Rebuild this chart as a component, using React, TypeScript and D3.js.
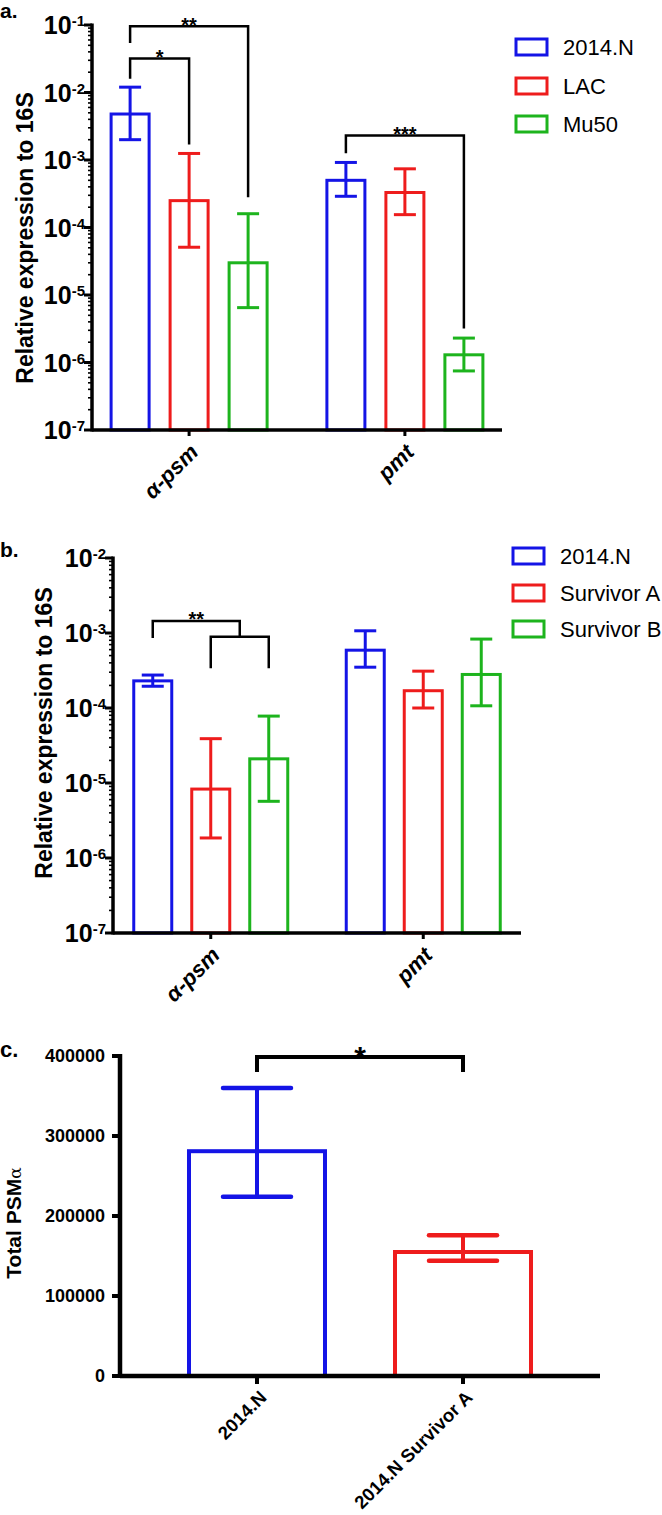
import React, { useEffect, useRef } from 'react';
import * as d3 from 'd3';

const FONT = '"Liberation Sans", Arial, sans-serif';
const COLORS = ['#1414e6', '#ee1c1c', '#1db41d'];

// panel a
const genesA = ['α-psm', 'pmt'];
const strainsA = ['2014.N', 'LAC', 'Mu50'];
const meanA = [[4.8e-3, 2.5e-4, 3.0e-5], [5.0e-4, 3.3e-4, 1.3e-6]];
const lowA = [[2.0e-3, 5.1e-5, 6.5e-6], [2.9e-4, 1.55e-4, 7.5e-7]];
const highA = [[1.2e-2, 1.25e-3, 1.6e-4], [9.2e-4, 7.4e-4, 2.3e-6]];
const sigA = [
  { label: '**', from: [0, 0], to: [0, 2], top: 0.096, left: 0.054, right: 2.8e-4 },
  { label: '*', from: [0, 0], to: [0, 1], top: 0.032, left: 0.016, right: 1.7e-3 },
  { label: '***', from: [1, 0], to: [1, 2], top: 2.3e-3, left: 1.26e-3, right: 3.2e-6 },
];

// panel b
const genesB = ['α-psm', 'pmt'];
const strainsB = ['2014.N', 'Survivor A', 'Survivor B'];
const meanB = [[2.3e-4, 8.3e-6, 2.1e-5], [5.9e-4, 1.7e-4, 2.8e-4]];
const lowB = [[1.95e-4, 1.85e-6, 5.7e-6], [3.5e-4, 1.0e-4, 1.07e-4]];
const highB = [[2.75e-4, 3.9e-5, 7.8e-5], [1.07e-3, 3.1e-4, 8.3e-4]];

// panel c
const groupsC = ['2014.N', '2014.N Survivor A'];
const meanC = [281000, 155000];
const lowC = [224000, 144000];
const highC = [360000, 176000];
const ticksC = [0, 100000, 200000, 300000, 400000];

function drawLog(svg, p) {
  const g = svg.append('g');
  const y = d3.scaleLog().domain([10 ** p.minExp, 10 ** p.maxExp]).range([p.yBot, p.yTop]);
  const x = d3.scalePoint().domain(p.groups).range([p.xLeft, p.xRight]).padding(p.pad);
  const xs = d3.scalePoint().domain(p.strains).range([-p.spread, p.spread]);
  const cx = (gi, si) => x(p.groups[gi]) + xs(p.strains[si]);

  // bars + error bars
  p.groups.forEach((grp, gi) => {
    p.strains.forEach((s, si) => {
      const c = cx(gi, si);
      const col = COLORS[si];
      g.append('rect')
        .attr('x', c - 19).attr('y', y(p.mean[gi][si]))
        .attr('width', 38).attr('height', p.yBot - y(p.mean[gi][si]))
        .attr('fill', 'none').attr('stroke', col).attr('stroke-width', 3);
      g.append('line').attr('x1', c).attr('x2', c)
        .attr('y1', y(p.low[gi][si])).attr('y2', y(p.high[gi][si]))
        .attr('stroke', col).attr('stroke-width', 3);
      [p.low[gi][si], p.high[gi][si]].forEach(v => {
        g.append('line').attr('x1', c - 11).attr('x2', c + 11)
          .attr('y1', y(v)).attr('y2', y(v))
          .attr('stroke', col).attr('stroke-width', 3);
      });
    });
  });

  // minor + major ticks
  for (let e = p.minExp; e < p.maxExp; e++) {
    for (let k = 2; k <= 9; k++) {
      g.append('line').attr('x1', p.xLeft - 4).attr('x2', p.xLeft)
        .attr('y1', y(k * 10 ** e)).attr('y2', y(k * 10 ** e))
        .attr('stroke', '#000').attr('stroke-width', 1.6);
    }
  }
  for (let e = p.minExp; e <= p.maxExp; e++) {
    const yy = y(10 ** e);
    g.append('line').attr('x1', p.xLeft - 8).attr('x2', p.xLeft)
      .attr('y1', yy).attr('y2', yy).attr('stroke', '#000').attr('stroke-width', 3);
    const t = g.append('text').attr('x', p.xLeft - 7).attr('y', yy + 9)
      .attr('text-anchor', 'end').attr('font-family', FONT).attr('font-weight', 'bold');
    t.append('tspan').attr('font-size', p.tickFs).text('10');
    t.append('tspan').attr('font-size', 15).attr('dy', -8).text(String(e));
  }

  // axes
  g.append('line').attr('x1', p.xLeft).attr('x2', p.xLeft)
    .attr('y1', p.yTop - 1.5).attr('y2', p.yBot + 1.5)
    .attr('stroke', '#000').attr('stroke-width', 3.5);
  g.append('line').attr('x1', p.xLeft).attr('x2', p.xRight)
    .attr('y1', p.yBot).attr('y2', p.yBot)
    .attr('stroke', '#000').attr('stroke-width', 3.5);
  p.groups.forEach(grp => {
    g.append('line').attr('x1', x(grp)).attr('x2', x(grp))
      .attr('y1', p.yBot).attr('y2', p.yBot + 6)
      .attr('stroke', '#000').attr('stroke-width', 3);
    g.append('text')
      .attr('transform', `translate(${x(grp) + 5},${p.yBot + 18}) rotate(-45)`)
      .attr('text-anchor', 'end').attr('dy', '0.35em')
      .attr('font-family', FONT).attr('font-weight', 'bold').attr('font-style', 'italic')
      .attr('font-size', 22).text(grp);
  });

  // y label and panel letter
  g.append('text')
    .attr('transform', `translate(${p.labelX},${p.labelY}) rotate(-90)`)
    .attr('text-anchor', 'middle').attr('font-family', FONT).attr('font-weight', 'bold')
    .attr('font-size', 23).text('Relative expression to 16S');
  g.append('text').attr('x', 0).attr('y', p.letterY)
    .attr('font-family', FONT).attr('font-weight', 'bold').attr('font-size', 21).text(p.letter);

  // legend
  p.strains.forEach((s, si) => {
    const ly = p.legendY[si];
    g.append('rect').attr('x', p.legendX).attr('y', ly - 8).attr('width', 31).attr('height', 16)
      .attr('fill', 'none').attr('stroke', COLORS[si]).attr('stroke-width', 3);
    g.append('text').attr('x', p.legendX + 47).attr('y', ly).attr('dy', '0.35em')
      .attr('font-family', FONT).attr('font-size', 22).text(s);
  });

  return { g, y, cx };
}

function bracket(g, x1, x2, yTop, yL, yR, label, fs, sw) {
  g.append('path')
    .attr('d', `M${x1},${yL}V${yTop}H${x2}V${yR}`)
    .attr('fill', 'none').attr('stroke', '#000').attr('stroke-width', sw);
  g.append('text').attr('x', (x1 + x2) / 2).attr('y', yTop - 3 + 0.43 * fs)
    .attr('text-anchor', 'middle').attr('font-family', FONT).attr('font-weight', 'bold')
    .attr('font-size', fs).text(label);
}

const App = () => {
  const svgRef = useRef(null);

  useEffect(() => {
    const svg = d3.select(svgRef.current);
    svg.selectAll('*').remove();

    // panel a
    const a = drawLog(svg, {
      letter: 'a.', letterY: 18, groups: genesA, strains: strainsA,
      mean: meanA, low: lowA, high: highA, minExp: -7, maxExp: -1,
      yTop: 25, yBot: 430, xLeft: 92, xRight: 502, pad: 0.45, spread: 59,
      labelX: 33, labelY: 238, legendX: 516, legendY: [47, 86, 124], tickFs: 25,
    });
    sigA.forEach(s => {
      bracket(a.g, a.cx(s.from[0], s.from[1]), a.cx(s.to[0], s.to[1]),
        a.y(s.top), a.y(s.left), a.y(s.right), s.label, 20, 2.5);
    });

    // panel b
    const b = drawLog(svg, {
      letter: 'b.', letterY: 557, groups: genesB, strains: strainsB,
      mean: meanB, low: lowB, high: highB, minExp: -7, maxExp: -2,
      yTop: 558, yBot: 933, xLeft: 113, xRight: 521, pad: 0.46, spread: 58,
      labelX: 52, labelY: 733, legendX: 513, legendY: [556, 593, 629], tickFs: 25,
    });
    const bx0 = b.cx(0, 0), bx1 = b.cx(0, 1), bx2 = b.cx(0, 2);
    const mid = (bx1 + bx2) / 2;
    b.g.append('path')
      .attr('d', `M${bx1},${b.y(3.4e-4)}V${b.y(8.9e-4)}H${bx2}V${b.y(3.4e-4)}`)
      .attr('fill', 'none').attr('stroke', '#000').attr('stroke-width', 2.5);
    bracket(b.g, bx0, mid, b.y(1.45e-3), b.y(8.6e-4), b.y(8.9e-4), '**', 20, 2.5);

    // panel c
    const gc = svg.append('g');
    const yTop = 1056, yBot = 1376, xLeft = 120, xRight = 600;
    const y = d3.scaleLinear().domain([0, 400000]).range([yBot, yTop]);
    const x = d3.scalePoint().domain(groupsC).range([xLeft, xRight]).padding(0.665);
    groupsC.forEach((grp, i) => {
      const c = x(grp);
      gc.append('rect').attr('x', c - 68).attr('y', y(meanC[i]))
        .attr('width', 136).attr('height', yBot - y(meanC[i]))
        .attr('fill', 'none').attr('stroke', COLORS[i]).attr('stroke-width', 4);
      gc.append('line').attr('x1', c).attr('x2', c)
        .attr('y1', y(lowC[i])).attr('y2', y(highC[i]))
        .attr('stroke', COLORS[i]).attr('stroke-width', 4);
      [lowC[i], highC[i]].forEach(v => {
        gc.append('line').attr('x1', c - 34).attr('x2', c + 34)
          .attr('y1', y(v)).attr('y2', y(v))
          .attr('stroke', COLORS[i]).attr('stroke-width', 4.5).attr('stroke-linecap', 'round');
      });
      gc.append('line').attr('x1', c).attr('x2', c).attr('y1', yBot).attr('y2', yBot + 8)
        .attr('stroke', '#000').attr('stroke-width', 4);
      gc.append('text')
        .attr('transform', `translate(${c + 6},${yBot + 18}) rotate(-45)`)
        .attr('text-anchor', 'end').attr('dy', '0.35em')
        .attr('font-family', FONT).attr('font-weight', 'bold').attr('font-size', 18.5).text(grp);
    });
    ticksC.forEach(t => {
      gc.append('line').attr('x1', xLeft - 8).attr('x2', xLeft).attr('y1', y(t)).attr('y2', y(t))
        .attr('stroke', '#000').attr('stroke-width', 4);
      gc.append('text').attr('x', xLeft - 15).attr('y', y(t)).attr('dy', '0.35em')
        .attr('text-anchor', 'end').attr('font-family', FONT).attr('font-weight', 'bold')
        .attr('font-size', 18).text(String(t));
    });
    gc.append('line').attr('x1', xLeft).attr('x2', xLeft).attr('y1', yTop - 2).attr('y2', yBot + 2)
      .attr('stroke', '#000').attr('stroke-width', 4.5);
    gc.append('line').attr('x1', xLeft).attr('x2', xRight).attr('y1', yBot).attr('y2', yBot)
      .attr('stroke', '#000').attr('stroke-width', 4.5);
    bracket(gc, x(groupsC[0]), x(groupsC[1]), y(398750), y(380000), y(380000), '*', 30, 4);

    const lab = gc.append('text').attr('transform', `translate(21,1223) rotate(-90)`)
      .attr('text-anchor', 'middle').attr('font-family', FONT).attr('font-weight', 'bold')
      .attr('font-size', 21);
    lab.append('tspan').text('Total PSM');
    lab.append('tspan').attr('font-weight', 'normal').attr('font-family', '"DejaVu Serif", serif')
      .attr('font-size', 17).text('α');
    gc.append('text').attr('x', 0).attr('y', 1057)
      .attr('font-family', FONT).attr('font-weight', 'bold').attr('font-size', 22).text('c.');
  }, []);

  return (
    <svg ref={svgRef} width={662} height={1515}
      style={{ position: 'absolute', left: 0, top: 0, background: '#fff' }} />
  );
};

export default App;
